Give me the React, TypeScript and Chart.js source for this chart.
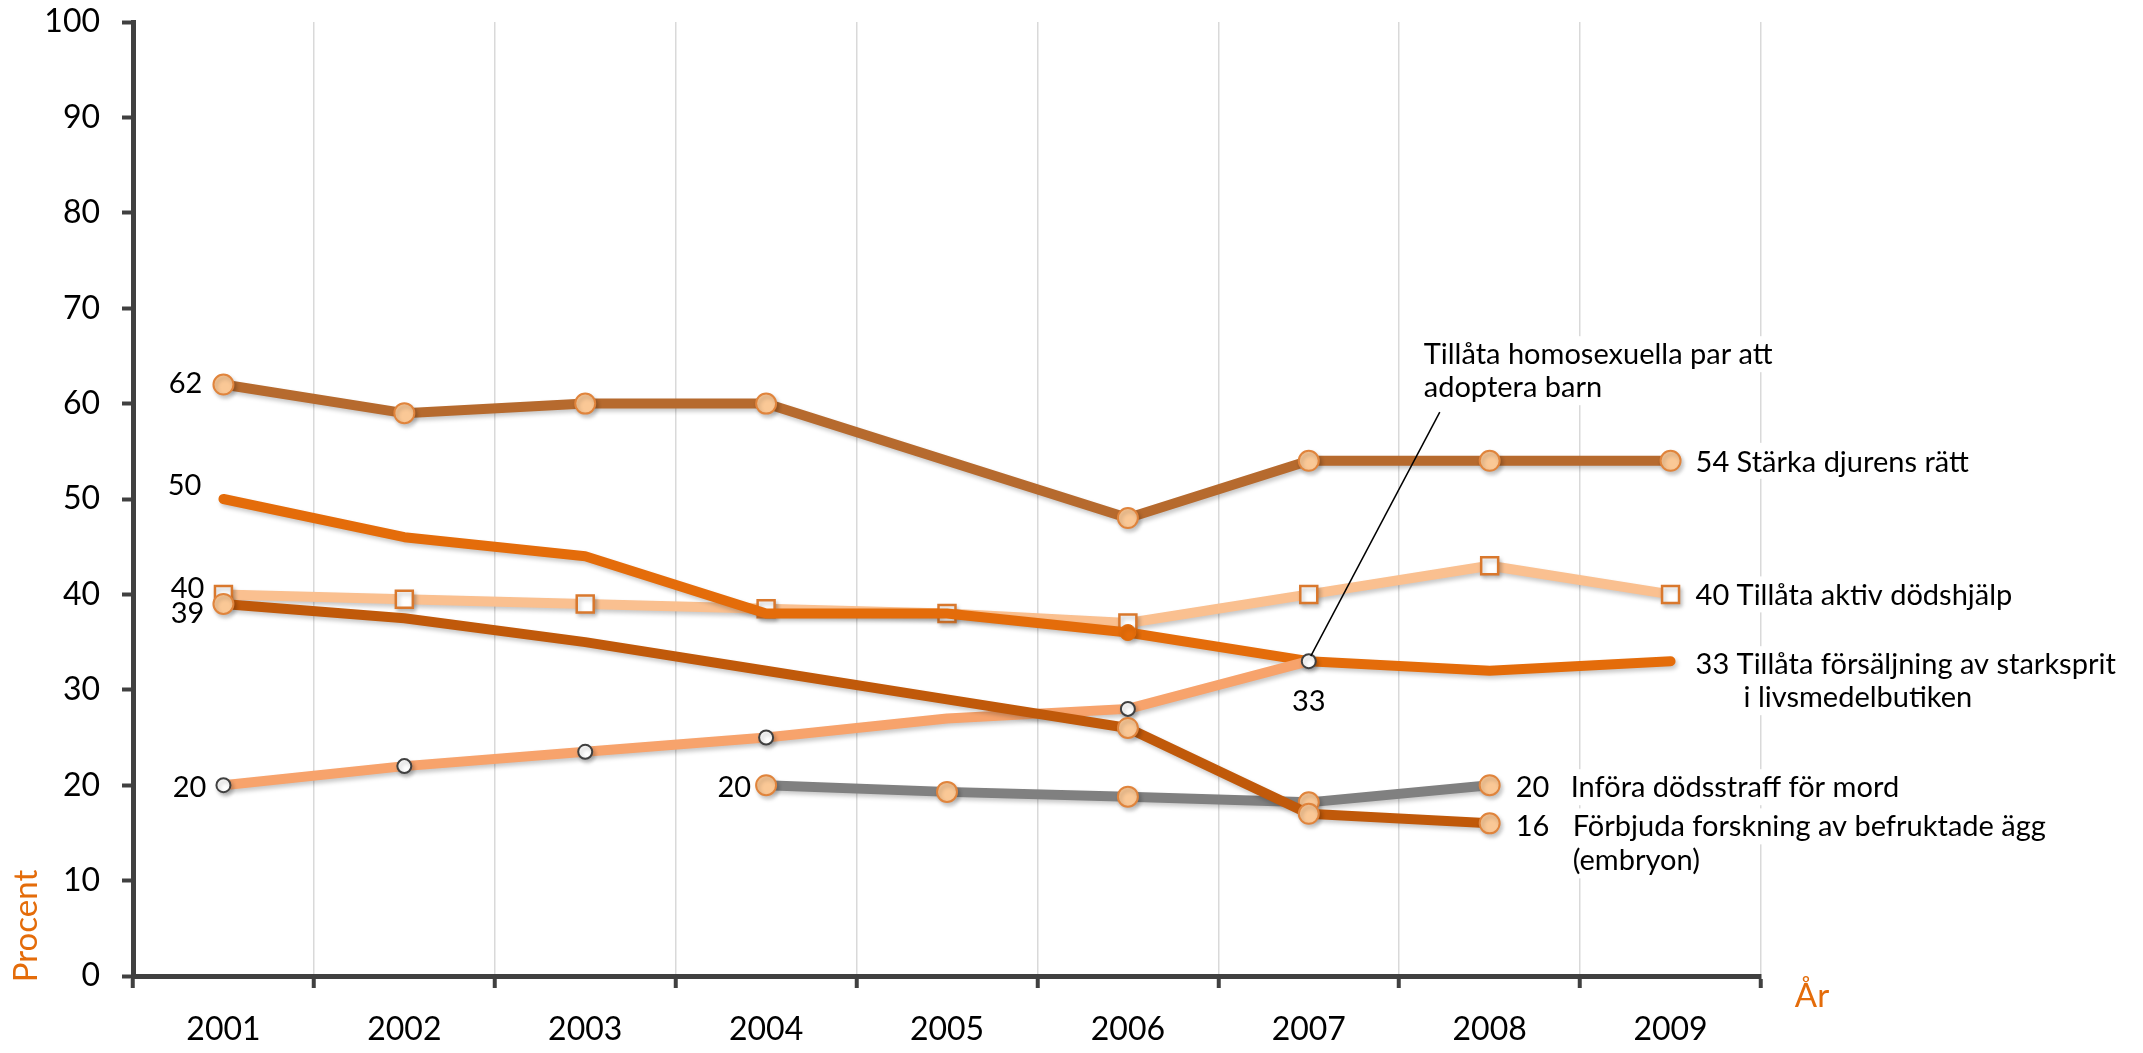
import React, { useEffect, useRef } from "react";
import { Chart, registerables } from "chart.js";

Chart.register(...registerables);

const years = ["2001", "2002", "2003", "2004", "2005", "2006", "2007", "2008", "2009"];
const starkaDjurensRatt = [62, 59, 60, 60, null, 48, 54, 54, 54];
const aktivDodshjalp = [40, 39.5, 39, 38.5, 38, 37, 40, 43, 40];
const starkspritButik = [50, 46, 44, 38, 38, 36, 33, 32, 33];
const forbjudaForskning = [39, 37.5, 35, 32, 29, 26, 17, 16, null];
const homosexuellaAdoptera = [20, 22, 23.5, 25, 27, 28, 33, null, null];
const dodsstraffMord = [null, null, null, 20, 19.3, 18.8, 18.2, 20, null];

const yTicks = [0, 10, 20, 30, 40, 50, 60, 70, 80, 90, 100];

const seriesNames = [
  "Stärka djurens rätt",
  "Tillåta aktiv dödshjälp",
  "Tillåta försäljning av starksprit",
  "Förbjuda forskning av befruktade ägg",
  "Tillåta homosexuella par att",
  "Införa dödsstraff för mord",
];

const FONT = "Lato, 'Open Sans', sans-serif";
const LABEL_SIZE = 29;
const PEACH = "#FAC896";
const PEACH_BORDER = "#E0843C";

function markers(values: (number | null)[], r: number, show: number[]) {
  return values.map((_, i) => (show.includes(i) ? r : 0));
}

const annotPlugin = {
  id: "annot",
  beforeDatasetsDraw(chart: any) {
    const ctx = chart.ctx;
    const x = chart.scales.x;
    const y = chart.scales.y;
    const px = (i: number) => x.getPixelForValue(i);
    const py = (v: number) => y.getPixelForValue(v);
    ctx.save();
    ctx.fillStyle = "#ffffff";
    ctx.font = `${LABEL_SIZE}px ${FONT}`;
    const bg = (text: string, lx: number, ly: number) => {
      const w = ctx.measureText(text).width;
      ctx.fillRect(lx - 4, ly - 18, w + 10, 36);
    };
    bg(`${starkaDjurensRatt[8]} ${seriesNames[0]}`, px(8) + 25, py(54));
    bg(`${aktivDodshjalp[8]} ${seriesNames[1]}`, px(8) + 25, py(40));
    bg(`${starkspritButik[8]} ${seriesNames[2]}`, px(8) + 25, py(33) + 3);
    bg("i livsmedelbutiken", px(8) + 73, py(33) + 36);
    bg(`${dodsstraffMord[7]}   ${seriesNames[5]}`, px(7) + 26, py(20) + 2);
    bg(`${forbjudaForskning[7]}   ${seriesNames[3]}`, px(7) + 26, py(16) + 3);
    bg("(embryon)", px(7) + 83, py(16) + 37);
    bg(seriesNames[4], px(6) + 115, py(33) - 307);
    bg("adoptera barn", px(6) + 115, py(33) - 274);
    ctx.restore();
  },
  beforeDatasetDraw(chart: any) {
    const ctx = chart.ctx;
    ctx.save();
    ctx.shadowColor = "rgba(0,0,0,0.22)";
    ctx.shadowBlur = 4;
    ctx.shadowOffsetX = 2;
    ctx.shadowOffsetY = 3;
  },
  afterDatasetDraw(chart: any) {
    chart.ctx.restore();
  },
  afterDatasetsDraw(chart: any) {
    const ctx = chart.ctx;
    const x = chart.scales.x;
    const y = chart.scales.y;
    const px = (i: number) => x.getPixelForValue(i);
    const py = (v: number) => y.getPixelForValue(v);
    ctx.save();
    ctx.fillStyle = "#000";
    ctx.font = `${LABEL_SIZE}px ${FONT}`;
    ctx.textBaseline = "middle";

    ctx.textAlign = "right";
    ctx.fillText(String(starkaDjurensRatt[0]), px(0) - 21, py(62) - 1);
    ctx.fillText(String(starkspritButik[0]), px(0) - 22, py(50) - 13);
    ctx.fillText(String(aktivDodshjalp[0]), px(0) - 19, py(40) - 6);
    ctx.fillText(String(forbjudaForskning[0]), px(0) - 19, py(39) + 10);
    ctx.fillText(String(homosexuellaAdoptera[0]), px(0) - 17, py(20) + 2);
    ctx.fillText(String(dodsstraffMord[3]), px(3) - 15, py(20) + 2);

    ctx.textAlign = "center";
    ctx.fillText(String(homosexuellaAdoptera[6]), px(6), py(33) + 40);

    ctx.textAlign = "left";
    ctx.fillText(`${starkaDjurensRatt[8]} ${seriesNames[0]}`, px(8) + 25, py(54) + 2);
    ctx.fillText(`${aktivDodshjalp[8]} ${seriesNames[1]}`, px(8) + 25, py(40) + 1);
    ctx.fillText(`${starkspritButik[8]} ${seriesNames[2]}`, px(8) + 25, py(33) + 3);
    ctx.fillText("i livsmedelbutiken", px(8) + 73, py(33) + 36);
    ctx.fillText(String(dodsstraffMord[7]), px(7) + 26, py(20) + 2);
    ctx.fillText(seriesNames[5], px(7) + 81, py(20) + 2);
    ctx.fillText(String(forbjudaForskning[7]), px(7) + 26, py(16) + 3);
    ctx.fillText(seriesNames[3], px(7) + 83, py(16) + 3);
    ctx.fillText("(embryon)", px(7) + 83, py(16) + 37);

    ctx.fillText(seriesNames[4], px(6) + 115, py(33) - 307);
    ctx.fillText("adoptera barn", px(6) + 115, py(33) - 274);
    ctx.strokeStyle = "#000";
    ctx.lineWidth = 1.5;
    ctx.beginPath();
    ctx.moveTo(px(6) + 131, py(33) - 249);
    ctx.lineTo(px(6) + 2, py(33) - 5);
    ctx.stroke();
    ctx.restore();
  },
  afterDraw(chart: any) {
    const ctx = chart.ctx;
    const a = chart.chartArea;
    ctx.save();
    ctx.fillStyle = "#E46C0A";
    ctx.font = `33px ${FONT}`;
    ctx.textAlign = "center";
    ctx.textBaseline = "middle";
    ctx.translate(26, a.bottom - 50);
    ctx.rotate(-Math.PI / 2);
    ctx.fillText("Procent", 0, 0);
    ctx.restore();
    ctx.save();
    ctx.fillStyle = "#E46C0A";
    ctx.font = `33px ${FONT}`;
    ctx.textAlign = "center";
    ctx.textBaseline = "middle";
    ctx.fillText("År", a.right + 51, a.bottom + 20);
    ctx.restore();
  },
};

export default function App() {
  const ref = useRef<HTMLCanvasElement | null>(null);

  useEffect(() => {
    if (!ref.current) return;
    const peachPoint = {
      pointStyle: "circle",
      pointBackgroundColor: PEACH,
      pointBorderColor: PEACH_BORDER,
      pointBorderWidth: 2,
    };
    const chart = new Chart(ref.current, {
      type: "line",
      data: {
        labels: years,
        datasets: [
          {
            label: seriesNames[3],
            data: forbjudaForskning,
            borderColor: "#C0590A",
            borderWidth: 10,
            ...peachPoint,
            pointRadius: markers(forbjudaForskning, 10, [0, 5, 6, 7]),
          },
          {
            label: seriesNames[4],
            data: homosexuellaAdoptera,
            borderColor: "#F7A36C",
            borderWidth: 10,
            pointStyle: "circle",
            pointBackgroundColor: "#ffffff",
            pointBorderColor: "#404040",
            pointBorderWidth: 2,
            pointRadius: markers(homosexuellaAdoptera, 7, [0, 1, 2, 3, 5, 6]),
          },
          {
            label: seriesNames[2],
            data: starkspritButik,
            borderColor: "#E46C0A",
            borderWidth: 10,
            pointStyle: "circle",
            pointBackgroundColor: "#E46C0A",
            pointBorderColor: "#E46C0A",
            pointBorderWidth: 1,
            pointRadius: markers(starkspritButik, 8, [5]),
          },
          {
            label: seriesNames[1],
            data: aktivDodshjalp,
            borderColor: "#FAC090",
            borderWidth: 10,
            pointStyle: "rect",
            pointBackgroundColor: "#ffffff",
            pointBorderColor: "#D9782D",
            pointBorderWidth: 2.5,
            pointRadius: markers(aktivDodshjalp, 12, [0, 1, 2, 3, 4, 5, 6, 7, 8]),
          },
          {
            label: seriesNames[0],
            data: starkaDjurensRatt,
            borderColor: "#B66A2E",
            borderWidth: 10,
            spanGaps: true,
            ...peachPoint,
            pointRadius: markers(starkaDjurensRatt, 10, [0, 1, 2, 3, 5, 6, 7, 8]),
          },
          {
            label: seriesNames[5],
            data: dodsstraffMord,
            borderColor: "#808080",
            borderWidth: 10,
            ...peachPoint,
            pointRadius: markers(dodsstraffMord, 10, [3, 4, 5, 6, 7]),
          },
        ] as any,
      },
      options: {
        animation: false,
        responsive: false,
        devicePixelRatio: 1,
        layout: { autoPadding: false, padding: { top: 22, right: 382, bottom: 0, left: 0 } },
        elements: {
          line: { tension: 0, borderJoinStyle: "round", borderCapStyle: "round" },
          point: { hoverRadius: 0 },
        },
        plugins: {
          legend: { display: false },
          tooltip: { enabled: false },
          title: { display: false },
        },
        scales: {
          x: {
            type: "category",
            offset: true,
            grid: {
              offset: true,
              color: "#D9D9D9",
              lineWidth: 1.5,
              tickColor: "#404040",
              tickWidth: 4,
              tickLength: 12,
              drawOnChartArea: true,
            },
            border: { display: true, color: "#404040", width: 5 },
            ticks: {
              color: "#000",
              font: { family: FONT, size: 32 },
              padding: 22,
              maxRotation: 0,
              autoSkip: false,
            },
            afterFit(s: any) {
              s.height = 77;
              s.paddingLeft = 0;
              s.paddingRight = 0;
              s.paddingTop = 0;
              s.paddingBottom = 0;
            },
          },
          y: {
            min: 0,
            max: 100,
            afterBuildTicks(s: any) {
              s.ticks = yTicks.map((v) => ({ value: v }));
            },
            ticks: {
              color: "#000",
              font: { family: FONT, size: 32 },
              padding: 22,
            },
            grid: {
              drawOnChartArea: false,
              tickColor: "#404040",
              tickWidth: 4,
              tickLength: 11,
            },
            border: { display: true, color: "#404040", width: 5 },
            afterFit(s: any) {
              s.width = 133;
              s.paddingTop = 0;
              s.paddingBottom = 0;
              s.paddingLeft = 0;
              s.paddingRight = 0;
            },
          },
        },
      } as any,
      plugins: [annotPlugin],
    });
    return () => chart.destroy();
  }, []);

  return (
    <div style={{ position: "fixed", left: 0, top: 0, width: 2143, height: 1053, background: "#fff" }}>
      <canvas ref={ref} width={2143} height={1053} style={{ display: "block", width: 2143, height: 1053 }} />
    </div>
  );
}
